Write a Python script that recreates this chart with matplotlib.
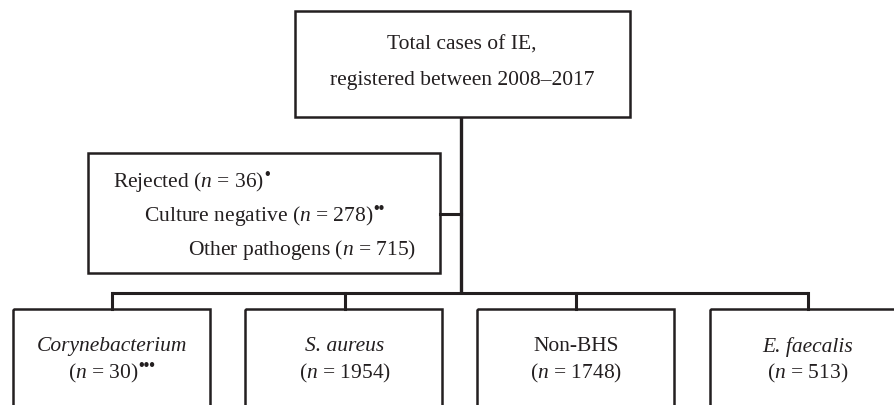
import matplotlib.pyplot as plt
from matplotlib.patches import Rectangle

plt.rcParams['font.family'] = ['Liberation Serif', 'DejaVu Serif']
plt.rcParams['mathtext.fontset'] = 'custom'
plt.rcParams['mathtext.rm'] = 'Liberation Serif'
plt.rcParams['mathtext.it'] = 'Liberation Serif:italic'

top_lines = ['Total cases of IE,', 'registered between 2008\u20132017']

excluded_labels = ['Rejected', 'Culture negative', 'Other pathogens']
excluded_counts = [36, 278, 715]
excluded_marks = ['\u2022', '\u2022\u2022', '']

group_labels = ['Corynebacterium', 'S. aureus', 'Non-BHS', 'E. faecalis']
group_italic = [True, True, False, True]
group_counts = [30, 1954, 1748, 513]
group_marks = ['\u2022\u2022\u2022', '', '', '']

fig = plt.figure(figsize=(8.95, 4.06), dpi=100)
ax = fig.add_axes([0, 0, 1, 1])
ax.set_xlim(0, 895)
ax.set_ylim(406, 0)
ax.axis('off')

fs = 15.5
col = '#231f20'
renderer = fig.canvas.get_renderer()
inv = ax.transData.inverted()


def box(x0, y0, x1, y1):
    ax.add_patch(Rectangle((x0, y0), x1 - x0, y1 - y0, fill=False,
                           lw=1.8, ec=col, zorder=2))


def count_text(x, y, prefix, n, mark, ha):
    shift = 0
    if mark:
        b = ax.text(0, y - 7, mark, ha='left', va='center',
                    fontsize=fs * 0.75, color=col, fontweight='bold')
        bw = b.get_window_extent(renderer).transformed(inv).width
        if ha == 'center':
            shift = bw / 2
    t = ax.text(x - shift, y, prefix + r'($\mathit{n}$ = %d)' % n, ha=ha,
                va='center', fontsize=fs, color=col)
    if mark:
        bb = t.get_window_extent(renderer).transformed(inv)
        b.set_x(bb.x1)


# top box
box(295, 12, 630, 118)
ax.text(462, 45, top_lines[0], ha='center', va='center', fontsize=fs, color=col)
ax.text(462, 80, top_lines[1], ha='center', va='center', fontsize=fs, color=col)

# main trunk
ax.plot([461, 461], [118, 294], color=col, lw=2.4, solid_capstyle='butt')

# excluded box
box(88, 154, 440, 274)
ax.plot([440, 461], [215, 215], color=col, lw=2.2)
ex_x = [113, 144, 188]
ex_y = [182, 216, 250]
for lab, n, m, x, y in zip(excluded_labels, excluded_counts, excluded_marks, ex_x, ex_y):
    count_text(x, y, lab + ' ', n, m, 'left')

# bottom branches
centers = [112, 345, 576, 808]
lefts = [13, 245, 477, 710]
width = 197
ax.plot([centers[0], centers[-1]], [294, 294], color=col, lw=2.2,
        solid_capstyle='butt')
for c, l, lab, it, n, m in zip(centers, lefts, group_labels, group_italic,
                               group_counts, group_marks):
    ax.plot([c, c], [294, 310], color=col, lw=2.2)
    box(l, 310, l + width, 420)
    ax.text(c, 347, lab, ha='center', va='center', fontsize=fs, color=col,
            style='italic' if it else 'normal')
    count_text(c, 373, '', n, m, 'center')

fig.savefig('out.png', dpi=100)
